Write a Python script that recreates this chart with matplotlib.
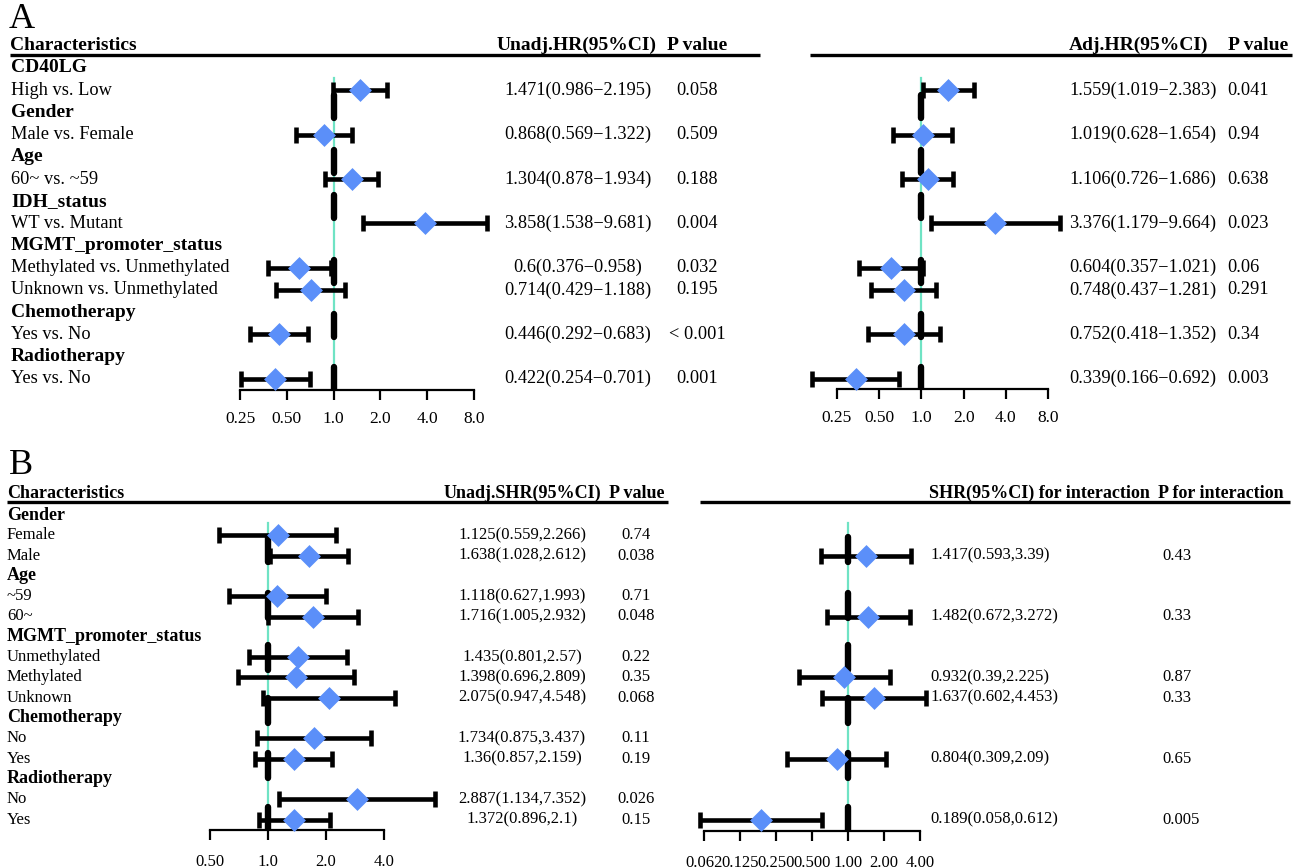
import numpy as np
import matplotlib
matplotlib.use('Agg')
import matplotlib.pyplot as plt
from matplotlib.ticker import FixedLocator, FixedFormatter, NullLocator

W, H = 1304, 868
plt.rcParams['font.family'] = ['Liberation Serif', 'DejaVu Serif']

GREEN = '#6fe3c4'
BLUE = '#5b8ff9'
DIAMOND = [(0, 1), (1, 0), (0, -1), (-1, 0), (0, 1)]

# ---------------- panel A data ----------------
a_labels = ['CD40LG', 'High vs. Low', 'Gender', 'Male vs. Female', 'Age', '60~ vs. ~59',
            'IDH_status', 'WT vs. Mutant', 'MGMT_promoter_status',
            'Methylated vs. Unmethylated', 'Unknown vs. Unmethylated',
            'Chemotherapy', 'Yes vs. No', 'Radiotherapy', 'Yes vs. No']
a_bold = [0, 2, 4, 6, 8, 11, 13]
a_rows = [1, 3, 5, 7, 9, 10, 12, 14]

a_unadj_est = [1.471, 0.868, 1.304, 3.858, 0.6, 0.714, 0.446, 0.422]
a_unadj_lo = [0.986, 0.569, 0.878, 1.538, 0.376, 0.429, 0.292, 0.254]
a_unadj_hi = [2.195, 1.322, 1.934, 9.681, 0.958, 1.188, 0.683, 0.701]
a_unadj_p = ['0.058', '0.509', '0.188', '0.004', '0.032', '0.195', '< 0.001', '0.001']

a_adj_est = [1.559, 1.019, 1.106, 3.376, 0.604, 0.748, 0.752, 0.339]
a_adj_lo = [1.019, 0.628, 0.726, 1.179, 0.357, 0.437, 0.418, 0.166]
a_adj_hi = [2.383, 1.654, 1.686, 9.664, 1.021, 1.281, 1.352, 0.692]
a_adj_p = ['0.041', '0.94', '0.638', '0.023', '0.06', '0.291', '0.34', '0.003']

a_ref_rows = [1.75, 4.2, 6.25, 9.15, 11.6, 14.0]
a_ticks = [0.25, 0.5, 1, 2, 4, 8]
a_ticklabels = ['0.25', '0.50', '1.0', '2.0', '4.0', '8.0']

# ---------------- panel B data ----------------
b_labels = ['Gender', 'Female', 'Male', 'Age', '~59', '60~', 'MGMT_promoter_status',
            'Unmethylated', 'Methylated', 'Unknown', 'Chemotherapy', 'No', 'Yes',
            'Radiotherapy', 'No', 'Yes']
b_bold = [0, 3, 6, 10, 13]
b_rows = [1, 2, 4, 5, 7, 8, 9, 11, 12, 14, 15]

b_shr_est = [1.125, 1.638, 1.118, 1.716, 1.435, 1.398, 2.075, 1.734, 1.36, 2.887, 1.372]
b_shr_lo = [0.559, 1.028, 0.627, 1.005, 0.801, 0.696, 0.947, 0.875, 0.857, 1.134, 0.896]
b_shr_hi = [2.266, 2.612, 1.993, 2.932, 2.57, 2.809, 4.548, 3.437, 2.159, 7.352, 2.1]
b_shr_p = ['0.74', '0.038', '0.71', '0.048', '0.22', '0.35', '0.068', '0.11', '0.19', '0.026', '0.15']

b_int_rows = [2, 5, 8, 9, 12, 15]
b_int_est = [1.417, 1.482, 0.932, 1.637, 0.804, 0.189]
b_int_lo = [0.593, 0.672, 0.39, 0.602, 0.309, 0.058]
b_int_hi = [3.39, 3.272, 2.225, 4.453, 2.09, 0.612]
b_int_p = ['0.43', '0.33', '0.87', '0.33', '0.65', '0.005']

b_ref_rows = [1.7, 4.45, 7.0, 9.65, 12.35, 15.0]
b_left_ticks = [0.5, 1, 2, 4]
b_left_ticklabels = ['0.50', '1.0', '2.0', '4.0']
b_right_ticks = [0.0625, 0.125, 0.25, 0.5, 1, 2, 4]
b_right_ticklabels = ['0.062', '0.125', '0.250', '0.500', '1.00', '2.00', '4.00']


fig = plt.figure(figsize=(W / 100, H / 100), dpi=100)

# text layer in pixel coordinates
tax = fig.add_axes([0, 0, 1, 1])
tax.set_xlim(0, W)
tax.set_ylim(H, 0)
tax.axis('off')


def forest(x0, x1, row0, dy, axis_y, ticks, ticklabels, rows, est, lo, hi,
           ref_rows, ref_half, green_top, tick_fs, tick_pad):
    ybot = (axis_y - row0) / dy
    top_px = row0 - dy
    ax = fig.add_axes([x0 / W, 1 - axis_y / H, (x1 - x0) / W, (axis_y - top_px) / H])
    ax.patch.set_alpha(0)
    ax.set_xscale('log', base=2)
    ax.set_xlim(ticks[0], ticks[-1])
    ax.set_ylim(ybot, -1)
    for s in ['top', 'left', 'right']:
        ax.spines[s].set_visible(False)
    ax.spines['bottom'].set_linewidth(1.6)
    ax.xaxis.set_major_locator(FixedLocator(ticks))
    ax.xaxis.set_major_formatter(FixedFormatter(ticklabels))
    ax.xaxis.set_minor_locator(NullLocator())
    ax.set_yticks([])
    ax.tick_params(axis='x', length=7, width=1.6, labelsize=tick_fs, pad=tick_pad)

    est = np.array(est)
    rows = np.array(rows)
    ax.plot([1, 1], [green_top, ybot], color=GREEN, lw=1.6, zorder=1)
    ax.hlines(rows, lo, hi, color='black', lw=3.3, zorder=2, clip_on=False)
    ax.plot(lo, rows, ls='none', marker='|', ms=12, mew=3.3, color='black', zorder=2, clip_on=False)
    ax.plot(hi, rows, ls='none', marker='|', ms=12, mew=3.3, color='black', zorder=2, clip_on=False)
    ref_rows = np.array(ref_rows)
    ax.vlines(np.ones(len(ref_rows)), ref_rows - ref_half, ref_rows + ref_half,
              color='black', lw=4.6, capstyle='round', zorder=3)
    ax.plot(est, rows, ls='none', marker=DIAMOND, ms=16.5, color=BLUE, mec='none',
            zorder=4, clip_on=False)
    return ax


def fmt_ci(e, l, h, sep):
    return f'{e:g}({l:g}{sep}{h:g})'


# ================= Panel A =================
A_ROW0, A_DY = 68, 22.2
tax.text(9, 20, 'A', fontsize=26, va='center', ha='left')
tax.text(10, 45, 'Characteristics', fontsize=14, fontweight='bold', va='center')
tax.text(577, 45, 'Unadj.HR(95%CI)', fontsize=14, fontweight='bold', va='center', ha='center')
tax.text(697, 45, 'P value', fontsize=14, fontweight='bold', va='center', ha='center')
tax.text(1069, 45, 'Adj.HR(95%CI)', fontsize=14, fontweight='bold', va='center', ha='left')
tax.text(1228, 45, 'P value', fontsize=14, fontweight='bold', va='center', ha='left')
tax.plot([10, 760], [55, 55], color='black', lw=2.4, solid_capstyle='butt')
tax.plot([810, 1292], [55, 55], color='black', lw=2.4, solid_capstyle='butt')

for i, lab in enumerate(a_labels):
    bold = i in a_bold
    tax.text(11, A_ROW0 + A_DY * i, lab, fontsize=14 if bold else 13.2,
             fontweight='bold' if bold else 'normal', va='center', ha='left')

for k, r in enumerate(a_rows):
    y = A_ROW0 + A_DY * r
    tax.text(578, y, fmt_ci(a_unadj_est[k], a_unadj_lo[k], a_unadj_hi[k], '\u2212'),
             fontsize=13.2, va='center', ha='center')
    tax.text(697, y, a_unadj_p[k], fontsize=13.2, va='center', ha='center')
    tax.text(1069, y, fmt_ci(a_adj_est[k], a_adj_lo[k], a_adj_hi[k], '\u2212'),
             fontsize=13.2, va='center', ha='left')
    tax.text(1227, y, a_adj_p[k], fontsize=13.2, va='center', ha='left')

forest(240, 474, A_ROW0, A_DY, 390, a_ticks, a_ticklabels, a_rows,
       a_unadj_est, a_unadj_lo, a_unadj_hi, a_ref_rows, 0.52, 0.45, 12.5, 8)
forest(837, 1048, A_ROW0, A_DY, 389, a_ticks, a_ticklabels, a_rows,
       a_adj_est, a_adj_lo, a_adj_hi, a_ref_rows, 0.52, 0.45, 12.5, 8)

# ================= Panel B =================
B_ROW0, B_DY = 515, 20.3
tax.text(9, 466, 'B', fontsize=26, va='center', ha='left')
tax.text(7, 493, 'Characteristics', fontsize=13, fontweight='bold', va='center')
tax.text(522, 493, 'Unadj.SHR(95%CI)', fontsize=13, fontweight='bold', va='center', ha='center')
tax.text(637, 493, 'P value', fontsize=13, fontweight='bold', va='center', ha='center')
tax.text(929, 493, 'SHR(95%CI) for interaction', fontsize=13, fontweight='bold', va='center', ha='left')
tax.text(1158, 493, 'P for interaction', fontsize=13, fontweight='bold', va='center', ha='left')
tax.plot([7, 668], [502, 502], color='black', lw=2.4, solid_capstyle='butt')
tax.plot([700, 1290], [502, 502], color='black', lw=2.4, solid_capstyle='butt')

for i, lab in enumerate(b_labels):
    bold = i in b_bold
    tax.text(7, B_ROW0 + B_DY * i, lab, fontsize=13 if bold else 12,
             fontweight='bold' if bold else 'normal', va='center', ha='left')

for k, r in enumerate(b_rows):
    y = B_ROW0 + B_DY * r
    tax.text(522, y, fmt_ci(b_shr_est[k], b_shr_lo[k], b_shr_hi[k], ','),
             fontsize=12, va='center', ha='center')
    tax.text(636, y, b_shr_p[k], fontsize=12, va='center', ha='center')

for k, r in enumerate(b_int_rows):
    y = B_ROW0 + B_DY * r
    tax.text(930, y, fmt_ci(b_int_est[k], b_int_lo[k], b_int_hi[k], ','),
             fontsize=12, va='center', ha='left')
    tax.text(1162, y, b_int_p[k], fontsize=12, va='center', ha='left')

forest(210, 384, B_ROW0, B_DY, 830, b_left_ticks, b_left_ticklabels, b_rows,
       b_shr_est, b_shr_lo, b_shr_hi, b_ref_rows, 0.62, 0.4, 12, 10)
forest(704, 920, B_ROW0, B_DY, 831, b_right_ticks, b_right_ticklabels, b_int_rows,
       b_int_est, b_int_lo, b_int_hi, b_ref_rows, 0.62, 0.4, 12, 10)

fig.savefig('out.png', dpi=100)
